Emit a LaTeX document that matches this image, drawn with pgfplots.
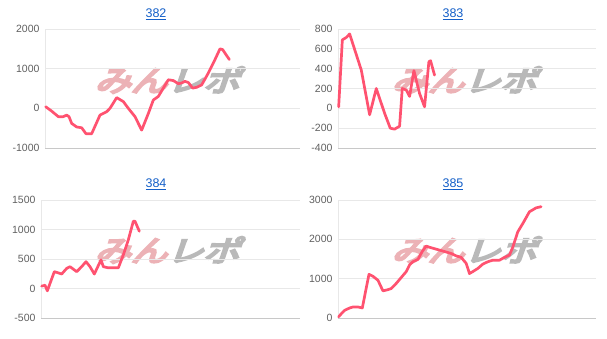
\documentclass[border=0pt]{standalone}
\usepackage{pgfplots}
\pgfplotsset{compat=1.18}
\usepackage{fontspec}
\setmainfont{Liberation Sans}
\newfontfamily\cjk{Noto Sans CJK JP}
\definecolor{linec}{RGB}{255,82,112}
\definecolor{gridc}{RGB}{232,232,232}
\definecolor{basec}{RGB}{200,200,200}
\definecolor{tickc}{RGB}{96,96,96}
\definecolor{titlec}{RGB}{20,95,200}
\definecolor{wmpink}{RGB}{236,178,182}
\definecolor{wmgray}{RGB}{185,185,185}
\pgfplotsset{
  panel/.style={
    scale only axis,
    axis line style={draw=none},
    xtick=\empty,
    ymajorgrids,
    grid style={gridc, line width=0.8pt},
    major tick length=0pt,
    yticklabel style={font=\fontsize{10.5}{12}\selectfont, text=tickc, xshift=-2pt},
    /pgf/number format/assume math mode=true,
    /pgf/number format/1000 sep={},
    clip=false,
  },
  ser/.style={linec, line width=2.7pt, line join=round, line cap=round, no markers},
}
\newcommand{\wm}[2]{%
  \node[xslant=0.35, xscale=1.25, inner sep=0pt] at (#1pt,#2pt)
    {\cjk\fontsize{29}{30}\selectfont\special{pdf:literal direct 2 Tr 2.2 w}\textcolor{wmpink}{みん}\textcolor{wmgray}{レポ}\special{pdf:literal direct 0 Tr}};}
\begin{document}
\begin{tikzpicture}
\path[use as bounding box] (0,0) rectangle (607pt,339pt);
% watermarks
\wm{171}{259}
\wm{468}{259}
\wm{171}{89}
\wm{468}{89}
% titles
\node[text=titlec, font=\fontsize{12.5}{14}\selectfont] at (156pt,325pt) {\underline{382}};
\node[text=titlec, font=\fontsize{12.5}{14}\selectfont] at (453pt,325pt) {\underline{383}};
\node[text=titlec, font=\fontsize{12.5}{14}\selectfont] at (156pt,155pt) {\underline{384}};
\node[text=titlec, font=\fontsize{12.5}{14}\selectfont] at (453pt,155pt) {\underline{385}};

% Panel 382
\begin{axis}[panel, at={(45pt,191pt)}, anchor=south west, width=255pt, height=119pt,
  xmin=135, xmax=900, ymin=-1000, ymax=2000, ytick={-1000,0,1000,2000}]
\draw[gridc, line width=0.8pt] (axis cs:135,-1000) -- (axis cs:135,2000);
\draw[basec, line width=0.8pt] (axis cs:135,-1000) -- (axis cs:900,-1000);
\addplot[ser] coordinates {
(137,40) (155,-70) (175,-210) (190,-210) (200,-170) (207,-210) (215,-380) (230,-470)
(245,-490) (258,-640) (275,-640) (300,-170) (320,-85) (330,0) (350,270) (370,170)
(385,0) (405,-210) (425,-550) (445,-130) (460,210) (475,300) (490,510) (505,720)
(520,700) (535,620) (545,640) (555,680) (565,650) (578,510) (590,530) (605,590)
(625,890) (645,1230) (660,1500) (668,1480) (688,1230)};
\end{axis}

% Panel 383
\begin{axis}[panel, at={(338pt,191pt)}, anchor=south west, width=258pt, height=119pt,
  xmin=105, xmax=880, ymin=-400, ymax=800, ytick={-400,-200,0,200,400,600,800}]
\draw[gridc, line width=0.8pt] (axis cs:105,-400) -- (axis cs:105,800);
\draw[basec, line width=0.8pt] (axis cs:105,-400) -- (axis cs:880,-400);
\addplot[ser] coordinates {
(107,15) (118,690) (130,715) (140,750) (175,385) (200,-65) (220,200) (245,-50)
(262,-200) (275,-210) (290,-180) (298,200) (310,185) (320,120) (333,380) (350,150)
(365,15) (378,470) (383,480) (395,335)};
\end{axis}

% Panel 384
\begin{axis}[panel, at={(41pt,21pt)}, anchor=south west, width=259pt, height=118pt,
  xmin=123, xmax=900, ymin=-500, ymax=1500, ytick={-500,0,500,1000,1500}]
\draw[gridc, line width=0.8pt] (axis cs:123,-500) -- (axis cs:123,1500);
\draw[basec, line width=0.8pt] (axis cs:123,-500) -- (axis cs:900,-500);
\addplot[ser] coordinates {
(125,40) (135,55) (142,-40) (150,85) (163,285) (175,265) (185,245) (200,340)
(210,370) (230,285) (245,370) (258,455) (270,370) (283,245) (298,425) (303,485)
(310,370) (325,350) (355,350) (370,570) (385,825) (400,1140) (405,1140) (418,970)};
\end{axis}

% Panel 385
\begin{axis}[panel, at={(338pt,21pt)}, anchor=south west, width=258pt, height=118pt,
  xmin=105, xmax=880, ymin=0, ymax=3000, ytick={0,1000,2000,3000}]
\draw[gridc, line width=0.8pt] (axis cs:105,0) -- (axis cs:105,3000);
\draw[basec, line width=0.8pt] (axis cs:105,0) -- (axis cs:880,0);
\addplot[ser] coordinates {
(107,30) (115,110) (125,195) (140,255) (150,280) (165,280) (178,255) (198,1110)
(210,1060) (225,960) (240,690) (255,720) (265,750) (280,880) (295,1030) (310,1180)
(320,1350) (330,1430) (345,1490) (358,1690) (370,1830) (375,1810) (400,1750)
(425,1690) (445,1640) (460,1580) (475,1540) (490,1390) (500,1130) (510,1180)
(525,1260) (540,1370) (555,1430) (570,1470) (590,1470) (605,1540) (620,1600)
(630,1800) (645,2190) (660,2400) (680,2700) (700,2800) (715,2830)};
\end{axis}
\end{tikzpicture}
\end{document}
